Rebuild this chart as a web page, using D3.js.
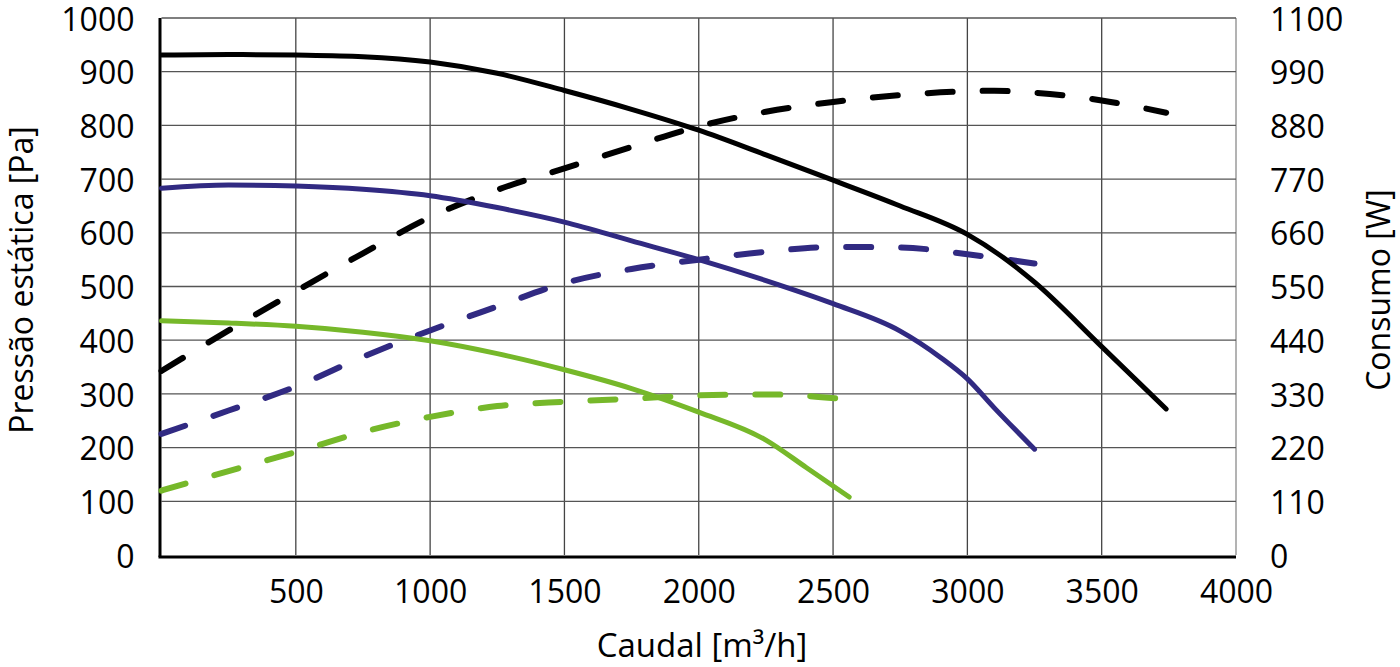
<!DOCTYPE html>
<html>
<head>
<meta charset="utf-8">
<script src="https://cdn.jsdelivr.net/npm/d3@7"></script>
<style>
	body { margin: 0; background: #fff; }
	svg { display: block; font-family: "Open Sans", sans-serif; }
</style>
</head>
<body>
<svg id="chart" width="1400" height="667"></svg>
<script>
// tick values
const flowTicks = [500, 1000, 1500, 2000, 2500, 3000, 3500, 4000]
const pressureTicks = [0, 100, 200, 300, 400, 500, 600, 700, 800, 900, 1000]
const powerTicks = [0, 110, 220, 330, 440, 550, 660, 770, 880, 990, 1100]

// black fan - pressure [Pa] and consumption [W] against flow [m3/h]
const blackFlowP = [0, 250, 500, 750, 1000, 1250, 1500, 1750, 2000, 2250, 2500, 2750, 3000, 3150, 3250, 3500, 3740]
const blackPress = [931, 932, 931, 928, 918, 897, 865, 830, 791, 745, 698, 650, 597, 548, 508, 388, 272]
const blackFlowW = [0, 250, 500, 750, 1000, 1250, 1500, 1750, 2000, 2250, 2500, 2750, 3000, 3100, 3250, 3500, 3740]
const blackPower = [377, 460, 540, 618, 692, 748, 792, 836, 878, 908, 928, 942, 950, 951, 947, 931, 906]

// blue fan
const blueFlowP = [0, 250, 500, 750, 1000, 1250, 1500, 1750, 2000, 2250, 2500, 2750, 2900, 3000, 3100, 3250]
const bluePress = [683, 689, 687, 681, 669, 647, 620, 585, 550, 511, 468, 417, 368, 328, 274, 197]
const blueFlowW = [0, 250, 500, 750, 1000, 1250, 1500, 1750, 2000, 2250, 2500, 2750, 3000, 3250]
const bluePower = [248, 296, 345, 406, 460, 509, 557, 586, 605, 621, 631, 630, 616, 597]

// green fan
const greenFlowP = [0, 250, 500, 750, 1000, 1250, 1500, 1750, 2000, 2250, 2400, 2560]
const greenPress = [436, 432, 426, 415, 399, 375, 345, 310, 266, 214, 163, 108]
const greenFlowW = [0, 250, 500, 750, 1000, 1250, 1500, 1750, 2000, 2250, 2550]
const greenPower = [132, 172, 211, 252, 283, 305, 314, 320, 327, 329, 319]

const series = [
	{flow: blackFlowW, vals: blackPower, axis: "power", color: "#000000", dash: true},
	{flow: blueFlowW, vals: bluePower, axis: "power", color: "#312a82", dash: true},
	{flow: greenFlowW, vals: greenPower, axis: "power", color: "#76b82a", dash: true},
	{flow: blackFlowP, vals: blackPress, axis: "pressure", color: "#000000", dash: false},
	{flow: blueFlowP, vals: bluePress, axis: "pressure", color: "#312a82", dash: false},
	{flow: greenFlowP, vals: greenPress, axis: "pressure", color: "#76b82a", dash: false},
]

const svg = d3.select("#chart")
const pl = 161.5, pr = 1236, pt = 18, pb = 555

const x = d3.scaleLinear().domain([0, 4000]).range([pl, pr])
const y = d3.scaleLinear().domain([0, 1000]).range([pb, pt])
const yR = d3.scaleLinear().domain([0, 1100]).range([pb, pt])

// grid
const grid = svg.append("g")
grid.selectAll("line.v")
	.data(flowTicks)
	.join("line")
	.attr("class", "v")
	.attr("x1", d => x(d)).attr("x2", d => x(d))
	.attr("y1", pt).attr("y2", pb)
	.attr("stroke", d => d == 4000 ? "#8a8a8a" : "#444")
	.attr("stroke-width", 1.3)
grid.selectAll("line.h")
	.data(pressureTicks.filter(d => d > 0))
	.join("line")
	.attr("class", "h")
	.attr("x1", pl).attr("x2", pr)
	.attr("y1", d => y(d)).attr("y2", d => y(d))
	.attr("stroke", "#555")
	.attr("stroke-width", 1.3)

// axis lines
svg.append("line")
	.attr("x1", 160).attr("x2", 160).attr("y1", pt).attr("y2", pb + 2)
	.attr("stroke", "#000").attr("stroke-width", 3)
svg.append("line")
	.attr("x1", 158.5).attr("x2", pr).attr("y1", pb + 2).attr("y2", pb + 2)
	.attr("stroke", "#000").attr("stroke-width", 3)

// tick labels
const fmt = d3.format("d")
const xAxis = svg.append("g")
	.attr("transform", `translate(0,${pb})`)
	.call(d3.axisBottom(x).tickValues(flowTicks).tickFormat(fmt).tickSize(0).tickPadding(25))
const yAxis = svg.append("g")
	.attr("transform", `translate(${pl},0)`)
	.call(d3.axisLeft(y).tickValues(pressureTicks).tickFormat(fmt).tickSize(0).tickPadding(27))
const yAxisR = svg.append("g")
	.attr("transform", `translate(${pr},0)`)
	.call(d3.axisRight(yR).tickValues(powerTicks).tickFormat(fmt).tickSize(0).tickPadding(34))

for (const g of [xAxis, yAxis, yAxisR]) {
	g.select(".domain").remove()
	g.selectAll("text")
		.attr("font-family", "'Open Sans', sans-serif")
		.attr("font-size", 32)
		.attr("fill", "#000")
}
// vertical labels sit a touch lower, like the original
yAxis.selectAll("text").attr("dy", "0.38em")
yAxisR.selectAll("text").attr("dy", "0.38em")

// curves
const lines = svg.append("g")
lines.selectAll("path")
	.data(series)
	.join("path")
	.attr("fill", "none")
	.attr("stroke", d => d.color)
	.attr("stroke-width", d => d.dash ? 6 : 5)
	.attr("stroke-linecap", "round")
	.attr("stroke-dasharray", d => d.dash ? "25,30" : null)
	.attr("d", d => {
		const sy = d.axis == "power" ? yR : y
		return d3.line()
			.x(p => x(p[0]))
			.y(p => sy(p[1]))
			.curve(d3.curveMonotoneX)(d3.zip(d.flow, d.vals))
	})

// axis titles
svg.append("text")
	.attr("transform", "translate(33,280) rotate(-90)")
	.attr("text-anchor", "middle")
	.attr("font-size", 32)
	.text("Pressão estática [Pa]")
svg.append("text")
	.attr("transform", "translate(1390,290) rotate(-90)")
	.attr("text-anchor", "middle")
	.attr("font-size", 32)
	.text("Consumo [W]")
svg.append("text")
	.attr("x", 702).attr("y", 657)
	.attr("text-anchor", "middle")
	.attr("font-size", 33)
	.text("Caudal [m³/h]")
</script>
</body>
</html>
